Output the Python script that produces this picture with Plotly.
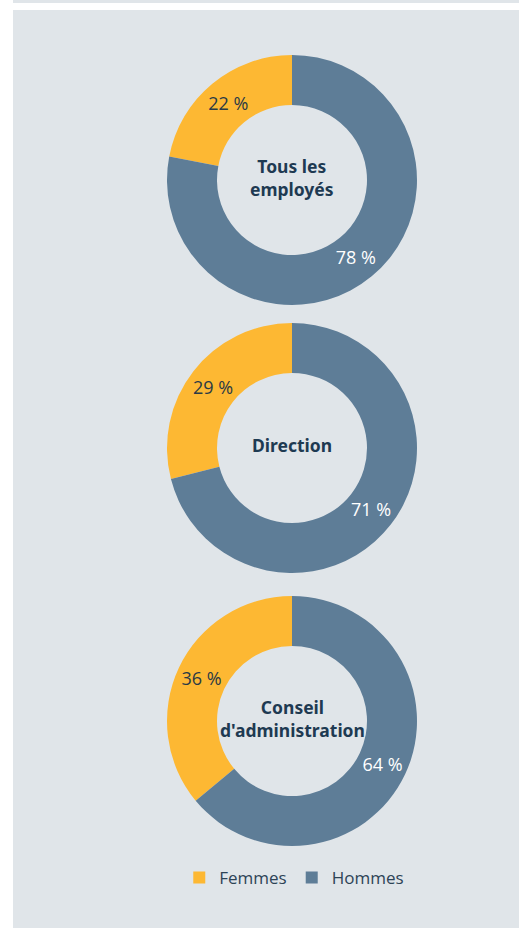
import plotly.graph_objects as go

labels = ['Femmes', 'Hommes']
groups = ['Tous les<br>employés', 'Direction', "Conseil<br>d'administration"]
femmes = [22, 29, 36]
hommes = [78, 71, 64]

colors = ['#FDB833', '#5E7D97']
bg = '#E0E5E9'
W, H = 519, 928

# pixel boxes of each donut (top, bottom)
boxes = [(55, 305), (323, 573), (596, 846)]
x0, x1 = 167, 417

fig = go.Figure()
for i, name in enumerate(groups):
    top, bottom = boxes[i]
    f, h = femmes[i], hommes[i]
    fig.add_trace(go.Pie(
        labels=labels,
        values=[f, h],
        hole=0.6,
        sort=False,
        direction='clockwise',
        # femmes slice ends at 12 o'clock
        rotation=360 - 360 * f / (f + h),
        marker=dict(colors=colors, line=dict(width=0)),
        texttemplate='%{value} %',
        textposition='inside',
        insidetextorientation='horizontal',
        textfont=dict(family='Open Sans', size=18, color=['#2B3A45', '#FFFFFF']),
        hoverinfo='label+percent',
        domain=dict(x=[x0 / W, x1 / W], y=[1 - bottom / H, 1 - top / H]),
        showlegend=(i == 0),
    ))
    fig.add_annotation(
        x=(x0 + x1) / 2 / W, y=1 - (top + bottom - 6) / 2 / H,
        xref='paper', yref='paper',
        xanchor='center', yanchor='middle',
        text='<b>' + name + '</b>',
        showarrow=False,
        font=dict(family='Noto Sans', size=17.5, color='#1E3A52'),
        align='center',
    )

fig.update_layout(
    width=W, height=H,
    margin=dict(l=0, r=0, t=0, b=0),
    paper_bgcolor='white',
    plot_bgcolor='white',
    font=dict(family='Open Sans', size=17, color='#2D4356'),
    shapes=[
        dict(type='rect', xref='paper', yref='paper', x0=13 / W, x1=1,
             y0=1 - 3 / H, y1=1, fillcolor=bg, line=dict(width=0), layer='below'),
        dict(type='rect', xref='paper', yref='paper', x0=13 / W, x1=1,
             y0=0, y1=1 - 10 / H, fillcolor=bg, line=dict(width=0), layer='below'),
    ],
    legend=dict(
        orientation='h',
        x=0.567, xanchor='center',
        y=50 / H, yanchor='middle',
        font=dict(family='Open Sans', size=17, color='#2D4356'),
        bgcolor='rgba(0,0,0,0)',
    ),
)

fig.write_html('out.html', config={'displayModeBar': False},
               post_script="document.body.style.margin='0';")
